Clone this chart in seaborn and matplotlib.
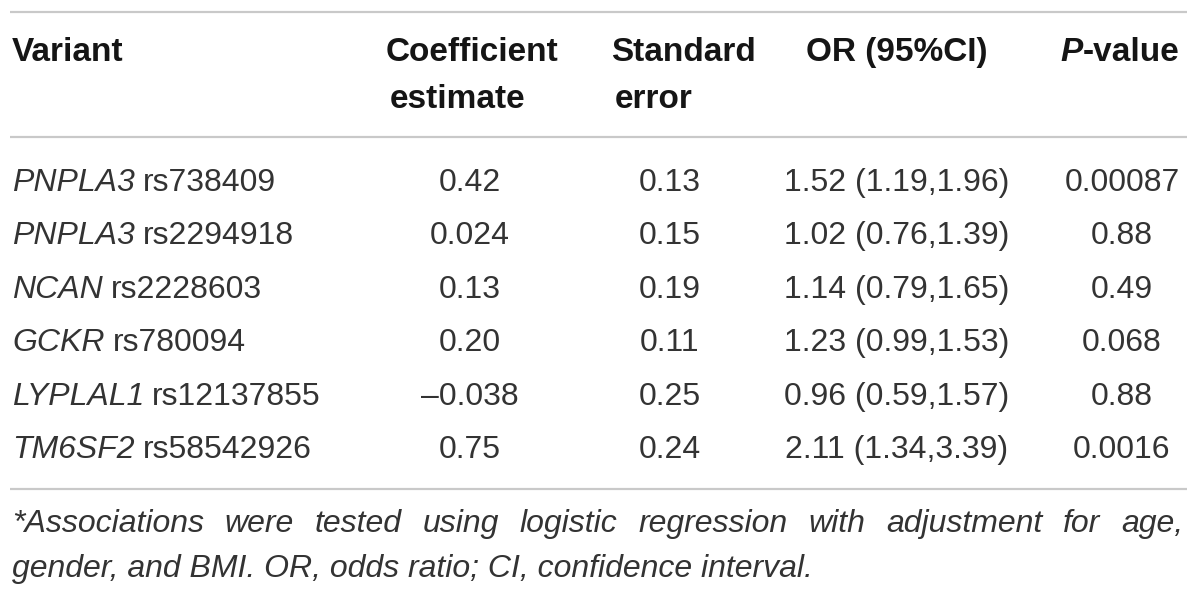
import matplotlib
matplotlib.use("Agg")
import matplotlib.pyplot as plt
import seaborn as sns

# --- table content ---
header_cols = [["Variant"], ["Coefficient", "estimate"], ["Standard", "error"], ["OR (95%CI)"], ["P-value"]]
genes = ["PNPLA3", "PNPLA3", "NCAN", "GCKR", "LYPLAL1", "TM6SF2"]
snps = ["rs738409", "rs2294918", "rs2228603", "rs780094", "rs12137855", "rs58542926"]
coef = ["0.42", "0.024", "0.13", "0.20", "\u20130.038", "0.75"]
std_err = ["0.13", "0.15", "0.19", "0.11", "0.25", "0.24"]
odds_ci = ["1.52 (1.19,1.96)", "1.02 (0.76,1.39)", "1.14 (0.79,1.65)",
           "1.23 (0.99,1.53)", "0.96 (0.59,1.57)", "2.11 (1.34,3.39)"]
p_values = ["0.00087", "0.88", "0.49", "0.068", "0.88", "0.0016"]
footnote = ["*Associations were tested using logistic regression with adjustment for age,",
            "gender, and BMI. OR, odds ratio; CI, confidence interval."]

sns.set_theme(style="white")
plt.rcParams["font.family"] = ["Liberation Sans", "DejaVu Sans"]

fs = 23
head_fs = 24
body_color = "#333333"
head_color = "#151515"
rule_color = "#c9c9c9"

fig = plt.figure(figsize=(12, 5.95), dpi=100)
ax = fig.add_axes([0, 0, 1, 1])
ax.set_xlim(0, 1200)
ax.set_ylim(595, 0)
ax.axis("off")
renderer = fig.canvas.get_renderer()


def text_width(t):
    return t.get_window_extent(renderer=renderer).width


# horizontal rules
for y in [12, 137, 489]:
    ax.plot([10, 1187], [y, y], color=rule_color, lw=1.6, solid_capstyle="butt")

# header
head_x = [12, 386, 611, 897, 1120]
head_base = [61, 108]
ax.text(head_x[0], head_base[0], header_cols[0][0], fontsize=head_fs, fontweight="bold",
        color=head_color, va="baseline", ha="left")
for i in (1, 2):
    for j, line in enumerate(header_cols[i]):
        ax.text(head_x[i] + 4 * j, head_base[j], line, fontsize=head_fs, fontweight="bold",
                color=head_color, va="baseline", ha="left")
ax.text(head_x[3], head_base[0], header_cols[3][0], fontsize=head_fs, fontweight="bold",
        color=head_color, va="baseline", ha="center")
# P-value: italic P
p_txt = ax.text(0, head_base[0], header_cols[4][0][0], fontsize=head_fs, fontweight="bold",
                style="italic", color=head_color, va="baseline", ha="left")
rest_txt = ax.text(0, head_base[0], header_cols[4][0][1:], fontsize=head_fs, fontweight="bold",
                   color=head_color, va="baseline", ha="left")
w_p, w_rest = text_width(p_txt), text_width(rest_txt)
start = head_x[4] - (w_p + w_rest) / 2
p_txt.set_x(start)
rest_txt.set_x(start + w_p)

# body rows
row_base = [191, 244, 298, 351, 405, 458]
col_centers = [470, 670, 897, 1122]
for r in range(len(genes)):
    yb = row_base[r]
    g = ax.text(12, yb, genes[r], fontsize=fs, style="italic", color=body_color,
                va="baseline", ha="left")
    ax.text(12 + text_width(g) + 8, yb, snps[r], fontsize=fs, color=body_color,
            va="baseline", ha="left")
    for cx, vals in zip(col_centers, [coef, std_err, odds_ci, p_values]):
        ax.text(cx, yb, vals[r], fontsize=fs, color=body_color, va="baseline", ha="center")

# footnote: first line justified, second line left
left, right = 12, 1183
foot_base = [532, 577]
words = footnote[0].split()
objs = [ax.text(0, foot_base[0], w, fontsize=fs, style="italic", color=body_color,
                va="baseline", ha="left") for w in words]
widths = [text_width(o) for o in objs]
gap = (right - left - sum(widths)) / (len(words) - 1)
x = left
for o, w in zip(objs, widths):
    o.set_x(x)
    x += w + gap
ax.text(left, foot_base[1], footnote[1], fontsize=fs, style="italic", color=body_color,
        va="baseline", ha="left")

fig.savefig("out.png", dpi=100)
